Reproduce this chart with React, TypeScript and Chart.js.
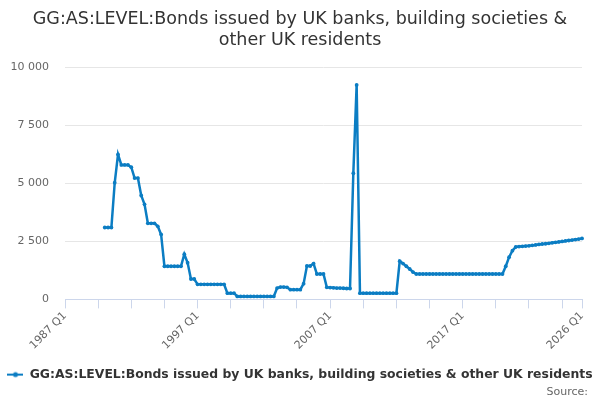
import React, { useEffect, useRef } from 'react';
import { Chart, registerables } from 'chart.js';

Chart.register(...registerables);

const TITLE = ['GG:AS:LEVEL:Bonds issued by UK banks, building societies &', 'other UK residents'];
const SERIES_NAME = 'GG:AS:LEVEL:Bonds issued by UK banks, building societies & other UK residents';
const SOURCE = 'Source:';
const FIRST_YEAR = 1987;
const LAST_YEAR = 2026;
const LABELLED_TICKS = ['1987 Q1', '1997 Q1', '2007 Q1', '2017 Q1', '2026 Q1'];
const Y_TICKS = [0, 2500, 5000, 7500, 10000];
const LEADING_EMPTY = 12; // quarters before the series starts (1987 Q1 .. 1989 Q4)
const VALUES = [
  3100, 3100, 3100, 5030, 6250, 5800, 5800, 5800, 5700, 5230,
  5230, 4480, 4100, 3280, 3280, 3280, 3150, 2800, 1430, 1430,
  1430, 1430, 1430, 1430, 1950, 1580, 880, 880, 650, 650,
  650, 650, 650, 650, 650, 650, 650, 270, 270, 270,
  130, 130, 130, 130, 130, 130, 130, 130, 130, 130,
  130, 130, 490, 530, 530, 520, 420, 420, 420, 420,
  680, 1440, 1440, 1545, 1095, 1095, 1095, 520, 510, 500,
  490, 490, 480, 470, 470, 5440, 9250, 270, 270, 270,
  270, 270, 270, 270, 270, 270, 270, 270, 270, 1650,
  1545, 1430, 1310, 1180, 1095, 1095, 1095, 1095, 1095, 1095,
  1095, 1095, 1095, 1095, 1095, 1095, 1095, 1095, 1095, 1095,
  1095, 1095, 1095, 1095, 1095, 1095, 1095, 1095, 1095, 1095,
  1095, 1430, 1820, 2100, 2260, 2280, 2290, 2300, 2310, 2330,
  2350, 2370, 2390, 2400, 2420, 2440, 2460, 2480, 2500, 2520,
  2540, 2560, 2580, 2600, 2630,
];

const QUARTERS: string[] = [];
for (let y = FIRST_YEAR; y <= LAST_YEAR; y++) {
  for (let q = 1; q <= 4; q++) {
    if (y === LAST_YEAR && q > 1) break;
    QUARTERS.push(`${y} Q${q}`);
  }
}
const SERIES: (number | null)[] = [...Array(LEADING_EMPTY).fill(null), ...VALUES];

const COLOR = '#0b7dc3';

function legendSymbol(): HTMLCanvasElement {
  const c = document.createElement('canvas');
  c.width = 16;
  c.height = 8;
  const ctx = c.getContext('2d')!;
  ctx.strokeStyle = COLOR;
  ctx.lineWidth = 2;
  ctx.beginPath();
  ctx.moveTo(0, 4);
  ctx.lineTo(16, 4);
  ctx.stroke();
  ctx.fillStyle = COLOR;
  ctx.beginPath();
  ctx.arc(8, 4, 2.5, 0, Math.PI * 2);
  ctx.fill();
  return c;
}

const sourceInset = {
  id: 'sourceInset',
  afterLayout(chart: any) {
    for (const box of chart.boxes) {
      if (box.options && box.options.text === SOURCE) {
        box.right = box.left + box.width - 12;
      }
    }
  },
};

export default function App() {
  const ref = useRef<HTMLCanvasElement | null>(null);
  useEffect(() => {
    document.body.style.margin = '0';
    Chart.defaults.font.family = '"DejaVu Sans", sans-serif';
    const last = QUARTERS.length - 1;
    const chart = new Chart(ref.current!, {
      type: 'line',
      data: {
        labels: QUARTERS,
        datasets: [
          {
            label: SERIES_NAME,
            data: SERIES,
            borderColor: COLOR,
            backgroundColor: COLOR,
            borderWidth: 2.5,
            pointRadius: 1.9,
            pointHoverRadius: 3,
            pointBorderWidth: 0,
            tension: 0,
            spanGaps: false,
          },
        ],
      },
      plugins: [sourceInset],
      options: {
        responsive: false,
        animation: false,
        layout: { padding: { left: 0, right: 0, top: 0, bottom: 0 } },
        plugins: {
          title: {
            display: true,
            text: TITLE,
            color: '#333333',
            font: { size: 17.5, weight: 'normal' },
            lineHeight: 1.28,
            padding: { top: 9, bottom: 16.5 },
          },
          subtitle: {
            display: true,
            text: SOURCE,
            position: 'bottom',
            align: 'end',
            color: '#666666',
            font: { size: 11, weight: 'normal' },
            padding: { top: -5, bottom: 1 },
          },
          legend: {
            position: 'bottom',
            maxWidth: 600,
            labels: {
              color: '#333333',
              font: { size: 12.4, weight: 'bold' },
              usePointStyle: true,
              pointStyle: legendSymbol() as any,
              pointStyleWidth: 16,
              boxHeight: 8,
              padding: 0,
            },
          },
          tooltip: { enabled: false },
        },
        scales: {
          x: {
            type: 'category',
            offset: false,
            grid: {
              display: true,
              drawOnChartArea: false,
              drawTicks: true,
              tickLength: 9,
              color: '#ccd6eb',
            },
            border: { display: true, color: '#ccd6eb' },
            ticks: {
              autoSkip: false,
              minRotation: 45,
              maxRotation: 45,
              padding: 1,
              color: '#666666',
              font: { size: 11 },
              callback: function (this: any, value: any) {
                const lab = QUARTERS[value as number];
                return LABELLED_TICKS.includes(lab) ? lab : '';
              },
            },
            afterBuildTicks: (scale: any) => {
              scale.ticks = scale.ticks.filter((t: any) => t.value % 10 === 0 || t.value === last);
            },
            afterFit: (scale: any) => {
              scale.height = 69;
            },
          },
          y: {
            min: 0,
            max: 10000,
            grid: { color: '#e6e6e6', drawTicks: false },
            border: { display: false },
            ticks: {
              padding: 16,
              color: '#666666',
              font: { size: 11 },
              stepSize: 2500,
              callback: (v: any) => String(v).replace(/\B(?=(\d{3})+(?!\d))/g, ' '),
            },
            afterBuildTicks: (scale: any) => {
              scale.ticks = Y_TICKS.map((v) => ({ value: v }));
            },
            afterFit: (scale: any) => {
              scale.width = 65;
            },
          },
          rightSpace: {
            type: 'linear',
            position: 'right',
            display: true,
            grid: { display: false, drawTicks: false },
            border: { display: false },
            ticks: { display: false },
            afterFit: (scale: any) => {
              scale.width = 18;
            },
          },
        },
      },
    });
    return () => chart.destroy();
  }, []);
  return (
    <div style={{ width: 600, height: 400 }}>
      <canvas ref={ref} width={600} height={400} />
    </div>
  );
}
